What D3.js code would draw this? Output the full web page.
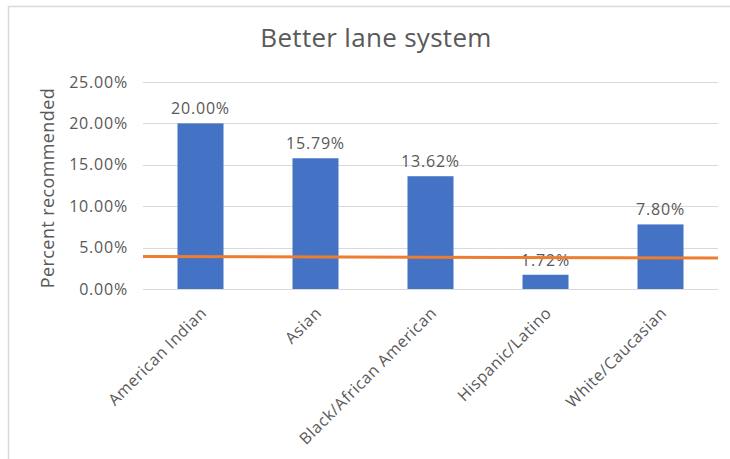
<!DOCTYPE html>
<html>
<head>
<meta charset="utf-8">
<script src="https://cdn.jsdelivr.net/npm/d3@7"></script>
<style>
  html, body { margin: 0; padding: 0; background: #fff; }
  svg { display: block; }
  text { font-family: "Open Sans", Lato, sans-serif; fill: #595959; }
</style>
</head>
<body>
<svg id="chart" width="730" height="459"></svg>
<script>
// Share of respondents recommending a better lane system, by group
const categories = ["American Indian", "Asian", "Black/African American", "Hispanic/Latino", "White/Caucasian"];
const percentRecommended = [20.00, 15.79, 13.62, 1.72, 7.80];
// Overall reference line (start and end value across the plot)
const overallLine = [3.94, 3.74];
const yTicks = [0, 5, 10, 15, 20, 25];
const chartTitle = "Better lane system";
const yAxisTitle = "Percent recommended";

const svg = d3.select("#chart");
const plot = { left: 143, right: 718, top: 82, bottom: 289 };

// Chart area outline
svg.append("rect")
  .attr("x", 8.5).attr("y", 6.5)
  .attr("width", 800).attr("height", 600)
  .attr("fill", "#fff")
  .attr("stroke", "#d9d9d9")
  .attr("stroke-width", 1.5);

const x = d3.scaleBand()
  .domain(categories)
  .range([plot.left, plot.right])
  .paddingInner(0.6)
  .paddingOuter(0.3);

const y = d3.scaleLinear()
  .domain([0, 25])
  .range([plot.bottom, plot.top]);

// Title
svg.append("text")
  .attr("x", 376).attr("y", 47)
  .attr("text-anchor", "middle")
  .style("font-size", "26px")
  .style("letter-spacing", "0.3px")
  .text(chartTitle);

// Horizontal gridlines
svg.append("g")
  .selectAll("line")
  .data(yTicks)
  .join("line")
  .attr("x1", plot.left).attr("x2", plot.right)
  .attr("y1", d => Math.round(y(d)) + 0.5)
  .attr("y2", d => Math.round(y(d)) + 0.5)
  .attr("stroke", "#d9d9d9")
  .attr("stroke-width", 1);

// Y axis tick labels
const yAxis = d3.axisLeft(y)
  .tickValues(yTicks)
  .tickFormat(d => d.toFixed(2) + "%")
  .tickSize(0)
  .tickPadding(15);
const yg = svg.append("g")
  .attr("transform", `translate(${plot.left},0)`)
  .call(yAxis);
yg.select(".domain").remove();
yg.selectAll("text")
  .style("font-size", "16px")
  .style("letter-spacing", "0.8px")
  .style("font-family", "'Open Sans', Lato, sans-serif")
  .attr("fill", "#595959");

// Y axis title
svg.append("text")
  .attr("transform", `translate(54,188) rotate(-90)`)
  .attr("text-anchor", "middle")
  .style("font-size", "18px")
  .style("letter-spacing", "0.4px")
  .text(yAxisTitle);

// Bars
svg.append("g")
  .selectAll("rect")
  .data(categories)
  .join("rect")
  .attr("x", d => x(d))
  .attr("width", x.bandwidth())
  .attr("y", (d, i) => y(percentRecommended[i]))
  .attr("height", (d, i) => y(0) - y(percentRecommended[i]))
  .attr("fill", "#4472c4");

// Value labels
svg.append("g")
  .selectAll("text")
  .data(categories)
  .join("text")
  .attr("x", d => x(d) + x.bandwidth() / 2)
  .attr("y", (d, i) => y(percentRecommended[i]) - 9)
  .attr("text-anchor", "middle")
  .style("font-size", "16px")
  .style("letter-spacing", "0.8px")
  .text((d, i) => percentRecommended[i].toFixed(2) + "%");

// Category labels, rotated
svg.append("g")
  .selectAll("text")
  .data(categories)
  .join("text")
  .attr("transform", d => `translate(${x(d) + x.bandwidth() / 2 + 7},${plot.bottom + 25}) rotate(-45)`)
  .attr("text-anchor", "end")
  .style("font-size", "16px")
  .style("letter-spacing", "0.6px")
  .text(d => d);

// Overall reference line
svg.append("line")
  .attr("x1", plot.left).attr("x2", plot.right)
  .attr("y1", y(overallLine[0]))
  .attr("y2", y(overallLine[1]))
  .attr("stroke", "#ed7d31")
  .attr("stroke-width", 3);
</script>
</body>
</html>
